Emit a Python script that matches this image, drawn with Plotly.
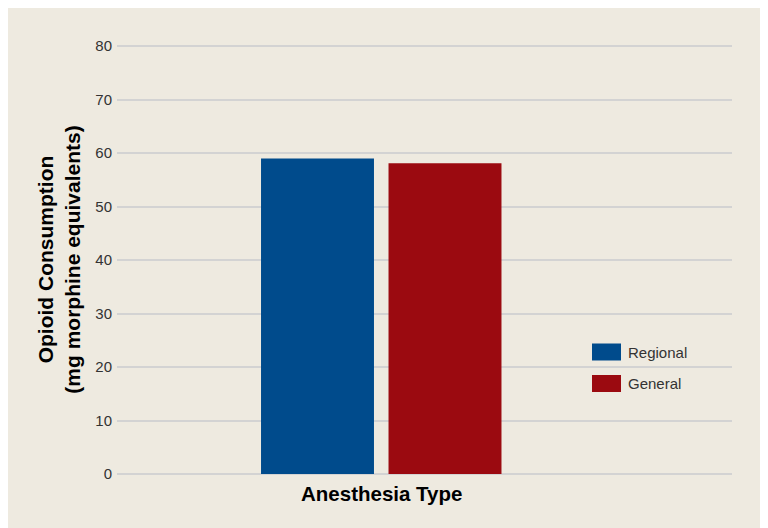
import plotly.graph_objects as go

categories = [""]
series_names = ["Regional", "General"]
series_values = [[59.0], [58.1]]
series_colors = ["#004b8c", "#9b0a10"]
y_ticks = [0, 10, 20, 30, 40, 50, 60, 70, 80]

OFF = 8  # page body margin
W, H = 757, 520
L, R, T, B = 109, 33, 37, 54
pw, ph = W - L - R, H - T - B

def px_x(p):
    return (p - OFF - L) / pw

def px_y(p):
    return (H - B - (p - OFF)) / ph

fig = go.Figure()
for name, vals, col in zip(series_names, series_values, series_colors):
    fig.add_trace(go.Bar(x=categories, y=vals, name=name, marker_color=col,
                         marker_line_width=0, showlegend=False))

# custom legend
for i, (name, col) in enumerate(zip(series_names, series_colors)):
    yc = 352 + i * 31.5
    fig.add_shape(type="rect", xref="paper", yref="paper",
                  x0=px_x(592), x1=px_x(621), y0=px_y(yc + 8.5), y1=px_y(yc - 8.5),
                  fillcolor=col, line_width=0)
    fig.add_annotation(text=name, xref="paper", yref="paper", x=px_x(626), y=px_y(yc),
                       xanchor="left", yanchor="middle", showarrow=False,
                       font=dict(family="Liberation Sans, Arial", size=15, color="#333333"))

fig.add_annotation(text="<b>Anesthesia Type</b>", xref="paper", yref="paper",
                   x=px_x(381), y=px_y(493), xanchor="center", yanchor="middle",
                   showarrow=False, font=dict(family="Liberation Sans, Arial", size=20.5, color="#000000"))

s = 300.0
cx = 381.25 - OFF
fig.update_layout(
    width=W, height=H,
    margin=dict(l=L, r=R, t=T, b=B, pad=0),
    paper_bgcolor="#eeeae0",
    plot_bgcolor="rgba(0,0,0,0)",
    barmode="group",
    bargap=0.15,
    bargroupgap=0.114,
    xaxis=dict(type="category", range=[-(cx - L) / s, (L + pw - cx) / s],
               showticklabels=False, showgrid=False, zeroline=False, showline=False),
    yaxis=dict(range=[0, 80.2], tickvals=y_ticks, showgrid=True, gridcolor="#d3d3d3", gridwidth=1.5,
               zeroline=True, zerolinecolor="#d3d3d3", zerolinewidth=1.5, showline=False,
               ticks="", ticklabelstandoff=4,
               tickfont=dict(family="Liberation Sans, Arial", size=15, color="#333333"),
               title=dict(text="<b>Opioid Consumption<br>(mg morphine equivalents)</b>", standoff=8,
                          font=dict(family="Liberation Sans, Arial", size=21, color="#000000"))),
)

fig.write_html("out.html")
